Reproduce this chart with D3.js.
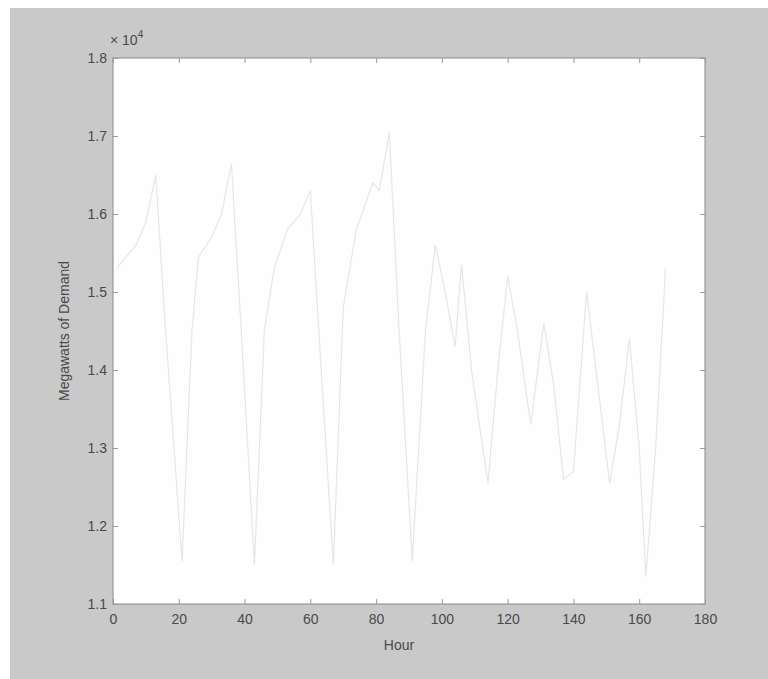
<!DOCTYPE html>
<html>
<head>
<meta charset="utf-8">
<script src="https://d3js.org/d3.v7.min.js"></script>
<style>
  body { margin: 0; background: #fff; }
  text { font-family: "Liberation Sans", Arial, sans-serif; fill: #4a4a4a; }
</style>
</head>
<body>
<div id="chart"></div>
<script>
// hourly demand (x 10^4 MW), vertices
var hours  = [1, 3, 7, 10, 13, 16, 21, 24, 26, 30, 33, 36, 39, 43, 46, 49, 53, 57, 60, 63, 67, 70, 74, 79, 81, 84, 87, 91, 95, 98, 101, 104, 106, 109, 114, 117, 120, 123, 127, 131, 134, 137, 140, 144, 148, 151, 154, 157, 160, 162, 165, 168];
var demand = [1.53, 1.54, 1.56, 1.59, 1.65, 1.45, 1.155, 1.45, 1.545, 1.57, 1.60, 1.665, 1.45, 1.15, 1.45, 1.53, 1.58, 1.60, 1.63, 1.42, 1.15, 1.48, 1.58, 1.64, 1.63, 1.705, 1.45, 1.155, 1.45, 1.56, 1.50, 1.43, 1.535, 1.40, 1.255, 1.40, 1.52, 1.45, 1.33, 1.46, 1.38, 1.26, 1.27, 1.50, 1.36, 1.255, 1.33, 1.44, 1.30, 1.135, 1.30, 1.53];
var xTicks = [0, 20, 40, 60, 80, 100, 120, 140, 160, 180];
var yTicks = [1.1, 1.2, 1.3, 1.4, 1.5, 1.6, 1.7, 1.8];

var W = 768, H = 679;
var pLeft = 113, pRight = 705, pTop = 58, pBottom = 604;

var svg = d3.select("#chart").append("svg")
    .attr("width", W).attr("height", H);

// grey figure background
svg.append("rect")
    .attr("x", 10).attr("y", 8)
    .attr("width", W - 10).attr("height", H - 8)
    .attr("fill", "#c9c9c9");

var x = d3.scaleLinear().domain([0, 180]).range([pLeft, pRight]);
var y = d3.scaleLinear().domain([1.1, 1.8]).range([pBottom, pTop]);

svg.append("rect")
    .attr("x", pLeft).attr("y", pTop)
    .attr("width", pRight - pLeft).attr("height", pBottom - pTop)
    .attr("fill", "#fefefe")
    .attr("stroke", "#8a8a8a").attr("stroke-width", 1);

// axes, MATLAB style ticks point inward
var xAxis = svg.append("g")
    .attr("transform", "translate(0," + pBottom + ")")
    .call(d3.axisTop(x).tickValues(xTicks).tickSize(5).tickFormat(d3.format("d")));
xAxis.select(".domain").remove();
xAxis.selectAll("line").attr("stroke", "#9a9a9a");
xAxis.selectAll("text").attr("y", 10).attr("dy", "0.71em").style("font-size", "14px").style("fill", "#4a4a4a");

var yAxis = svg.append("g")
    .attr("transform", "translate(" + pLeft + ",0)")
    .call(d3.axisRight(y).tickValues(yTicks).tickSize(5).tickFormat(d3.format(".1f")));
yAxis.select(".domain").remove();
yAxis.selectAll("line").attr("stroke", "#9a9a9a");
yAxis.selectAll("text").attr("x", -6).attr("text-anchor", "end").style("font-size", "14px").style("fill", "#4a4a4a");

// right/top tick marks
svg.append("g")
    .attr("transform", "translate(" + pRight + ",0)")
    .call(d3.axisLeft(y).tickValues(yTicks).tickSize(5).tickFormat(""))
    .call(function(g) { g.select(".domain").remove(); g.selectAll("line").attr("stroke", "#9a9a9a"); });
svg.append("g")
    .attr("transform", "translate(0," + pTop + ")")
    .call(d3.axisBottom(x).tickValues(xTicks).tickSize(5).tickFormat(""))
    .call(function(g) { g.select(".domain").remove(); g.selectAll("line").attr("stroke", "#9a9a9a"); });

// exponent label
var ex = svg.append("text").attr("x", pLeft - 3).attr("y", pTop - 13).style("font-size", "14px");
ex.append("tspan").text("\u00d7 10");
ex.append("tspan").attr("dy", -7).style("font-size", "10px").text("4");

// the demand line (very faint in the scan)
var line = d3.line()
    .x(function(d, i) { return x(hours[i]); })
    .y(function(d) { return y(d); });

svg.append("path")
    .datum(demand)
    .attr("d", line)
    .attr("fill", "none")
    .attr("stroke", "#e6e6e6")
    .attr("stroke-width", 1.2);

svg.append("text")
    .attr("x", (pLeft + pRight) / 2 - 10).attr("y", 650)
    .attr("text-anchor", "middle")
    .style("font-size", "14px")
    .text("Hour");

svg.append("text")
    .attr("transform", "translate(69," + ((pTop + pBottom) / 2) + ") rotate(-90)")
    .attr("text-anchor", "middle")
    .style("font-size", "14px")
    .text("Megawatts of Demand");
</script>
</body>
</html>
